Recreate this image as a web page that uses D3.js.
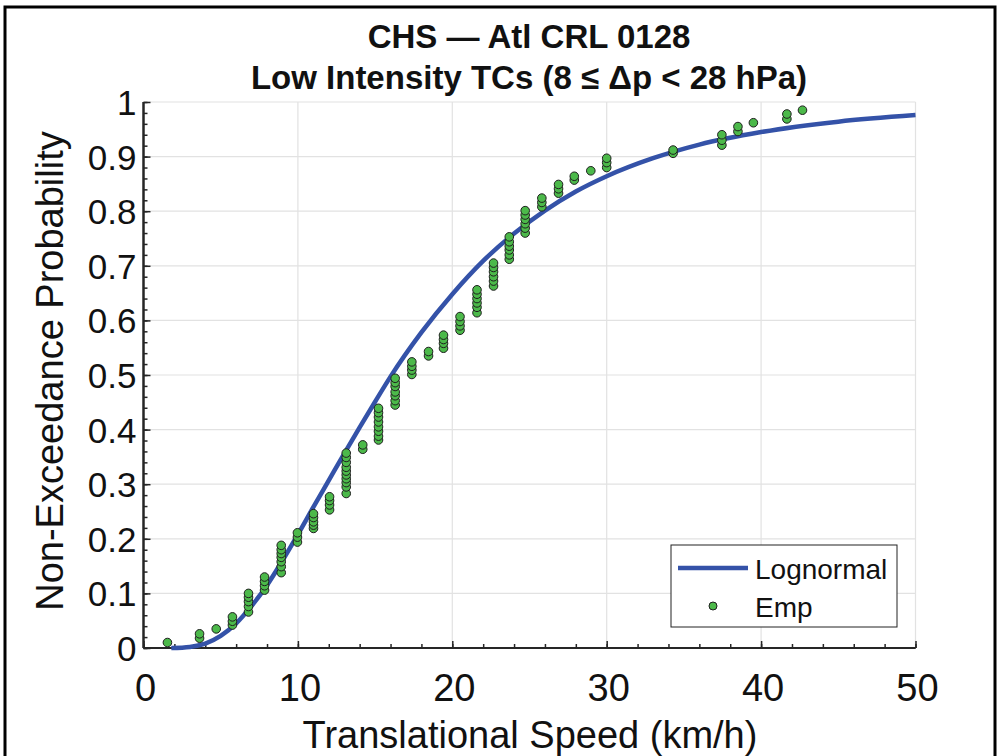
<!DOCTYPE html>
<html>
<head>
<meta charset="utf-8">
<script src="https://cdn.jsdelivr.net/npm/d3@7"></script>
<style>
  body { margin: 0; background: #fff; }
  svg text { font-family: "Liberation Sans", Arial, sans-serif; fill: #111; }
</style>
</head>
<body>
<svg id="chart"></svg>
<script>
// empirical points: one speed per column, several probabilities per column
const empSpeeds = [1.55, 3.63, 4.71, 5.76, 6.80, 7.84, 8.92, 9.97, 11.01, 12.05, 13.13, 14.2,
  15.22, 16.3, 17.38, 18.46, 19.43, 20.5, 21.6, 22.67, 23.69, 24.72, 25.8, 26.88, 27.9,
  28.97, 30.0, 34.3, 37.46, 38.5, 39.5, 41.67, 42.68]
const empProbs = [
  [0.010],
  [0.018, 0.026],
  [0.035],
  [0.042, 0.049, 0.057],
  [0.066, 0.076, 0.085, 0.093, 0.100],
  [0.106, 0.114, 0.122, 0.130],
  [0.138, 0.149, 0.158, 0.166, 0.173, 0.180, 0.188],
  [0.194, 0.203, 0.211],
  [0.219, 0.225, 0.231, 0.239, 0.246],
  [0.253, 0.262, 0.270, 0.277],
  [0.283, 0.295, 0.303, 0.310, 0.317, 0.324, 0.331, 0.340, 0.349, 0.357],
  [0.364, 0.372],
  [0.381, 0.388, 0.397, 0.405, 0.414, 0.423, 0.431, 0.439],
  [0.445, 0.453, 0.462, 0.469, 0.479, 0.486, 0.494],
  [0.501, 0.509, 0.516, 0.524],
  [0.535, 0.543],
  [0.549, 0.558, 0.565, 0.573],
  [0.582, 0.590, 0.598, 0.607],
  [0.614, 0.624, 0.632, 0.640, 0.648, 0.656],
  [0.663, 0.672, 0.680, 0.689, 0.697, 0.705],
  [0.712, 0.720, 0.729, 0.736, 0.744, 0.753],
  [0.760, 0.769, 0.777, 0.785, 0.793, 0.801],
  [0.808, 0.816, 0.824],
  [0.833, 0.841, 0.849],
  [0.857, 0.864],
  [0.874],
  [0.880, 0.889, 0.897],
  [0.906, 0.912],
  [0.921, 0.930, 0.940],
  [0.946, 0.955],
  [0.962],
  [0.969, 0.978],
  [0.985]
]

// lognormal fit
const fitSpeed = [1.8, 3, 4, 5, 6, 7, 8, 9, 10, 11, 12, 13, 14, 15, 16, 18, 20, 22, 24, 26, 28, 30, 33, 36, 40, 45, 50]
const fitProb = [0.0, 0.002, 0.008, 0.022, 0.045, 0.077, 0.115, 0.16, 0.208, 0.258, 0.307, 0.356, 0.404,
  0.451, 0.497, 0.578, 0.648, 0.709, 0.759, 0.801, 0.836, 0.864, 0.897, 0.922, 0.945, 0.964, 0.976]

const xTicks = [0, 10, 20, 30, 40, 50]
const yTicks = [0, 0.1, 0.2, 0.3, 0.4, 0.5, 0.6, 0.7, 0.8, 0.9, 1]
const titleLines = ['CHS \u2014 Atl CRL 0128', 'Low Intensity TCs (8 \u2264 \u0394p < 28 hPa)']

const width = 1000, height = 756
const margin = {top: 102, right: 84.5, bottom: 108, left: 143.5}
const lineColor = '#3452a8'
const dotColor = '#4cb94a'
const gridColor = '#e2e2e2'
const axisColor = '#262626'

const svg = d3.select('#chart').attr('width', width).attr('height', height)
svg.append('rect').attr('width', width).attr('height', height).attr('fill', '#fff')

// figure border
svg.append('rect')
  .attr('x', 5).attr('y', 7).attr('width', 990).attr('height', 770)
  .attr('fill', 'none').attr('stroke', '#000').attr('stroke-width', 3)

const x = d3.scaleLinear().domain([0, 50]).range([margin.left, width - margin.right])
const y = d3.scaleLinear().domain([0, 1]).range([height - margin.bottom, margin.top])

// grid
svg.append('g').selectAll('line').data(xTicks.slice(1)).join('line')
  .attr('x1', d => x(d)).attr('x2', d => x(d))
  .attr('y1', y(0)).attr('y2', y(1))
  .attr('stroke', gridColor).attr('stroke-width', 1.2)
svg.append('g').selectAll('line').data(yTicks.slice(1)).join('line')
  .attr('x1', x(0)).attr('x2', x(50))
  .attr('y1', d => y(d)).attr('y2', d => y(d))
  .attr('stroke', gridColor).attr('stroke-width', 1.2)

// axes, ticks pointing inward
const xAxis = svg.append('g').attr('transform', `translate(0,${y(0)})`)
xAxis.call(d3.axisTop(x).tickValues(d3.range(0, 51, 2)).tickSize(4).tickFormat(''))
xAxis.call(g => g.append('g').call(d3.axisTop(x).tickValues(xTicks).tickSize(7).tickFormat('')))
xAxis.selectAll('path, line').attr('stroke', axisColor).attr('stroke-width', 1.5)
xAxis.selectAll('.domain').attr('d', `M${x(0)},0H${x(50)}`).attr('stroke-width', 2)

const yAxis = svg.append('g').attr('transform', `translate(${x(0)},0)`)
yAxis.call(d3.axisRight(y).tickValues(d3.range(0, 51).map(i => i / 50)).tickSize(4).tickFormat(''))
yAxis.call(g => g.append('g').call(d3.axisRight(y).tickValues(yTicks).tickSize(7).tickFormat('')))
yAxis.selectAll('path, line').attr('stroke', axisColor).attr('stroke-width', 1.5)
yAxis.selectAll('.domain').attr('d', `M0,${y(0)}V${y(1)}`).attr('stroke-width', 2)

// tick labels
svg.append('g').selectAll('text').data(xTicks).join('text')
  .attr('x', d => x(d) + 2).attr('y', y(0) + 53)
  .attr('text-anchor', 'middle').attr('font-size', 38)
  .text(d => d)
svg.append('g').selectAll('text').data(yTicks).join('text')
  .attr('x', x(0) - 7).attr('y', d => y(d) + 13)
  .attr('text-anchor', 'end').attr('font-size', 35)
  .text(d => d)

// axis titles
svg.append('text')
  .attr('x', 530).attr('y', 748)
  .attr('text-anchor', 'middle').attr('font-size', 38)
  .text('Translational Speed (km/h)')
svg.append('text')
  .attr('transform', `translate(63,${y(0.5) - 4}) rotate(-90)`)
  .attr('text-anchor', 'middle').attr('font-size', 38)
  .text('Non-Exceedance Probability')

// title
svg.append('g').selectAll('text').data(titleLines).join('text')
  .attr('x', 529).attr('y', (d, i) => 48 + i * 41)
  .attr('text-anchor', 'middle').attr('font-size', 33).attr('font-weight', 'bold')
  .text(d => d)

// fitted curve
const line = d3.line().x(d => x(d[0])).y(d => y(d[1])).curve(d3.curveMonotoneX)
svg.append('path')
  .datum(fitSpeed.map((s, i) => [s, fitProb[i]]))
  .attr('d', line)
  .attr('fill', 'none').attr('stroke', lineColor).attr('stroke-width', 4.5)

// empirical points
const points = empSpeeds.flatMap((s, i) => empProbs[i].map(p => [s, p]))
svg.append('g').selectAll('circle').data(points).join('circle')
  .attr('cx', d => x(d[0])).attr('cy', d => y(d[1]))
  .attr('r', 4.3)
  .attr('fill', dotColor).attr('stroke', '#1e1e1e').attr('stroke-width', 1)

// legend
const legend = svg.append('g').attr('transform', 'translate(671,545)')
legend.append('rect').attr('width', 226).attr('height', 82)
  .attr('fill', '#fff').attr('stroke', '#222').attr('stroke-width', 1)
legend.append('line').attr('x1', 7).attr('x2', 77).attr('y1', 23).attr('y2', 23)
  .attr('stroke', lineColor).attr('stroke-width', 4.5)
legend.append('circle').attr('cx', 42).attr('cy', 61).attr('r', 4)
  .attr('fill', dotColor).attr('stroke', '#1e1e1e').attr('stroke-width', 1)
legend.append('text').attr('x', 84).attr('y', 34).attr('font-size', 28).text('Lognormal')
legend.append('text').attr('x', 84).attr('y', 72).attr('font-size', 28).text('Emp')
</script>
</body>
</html>
